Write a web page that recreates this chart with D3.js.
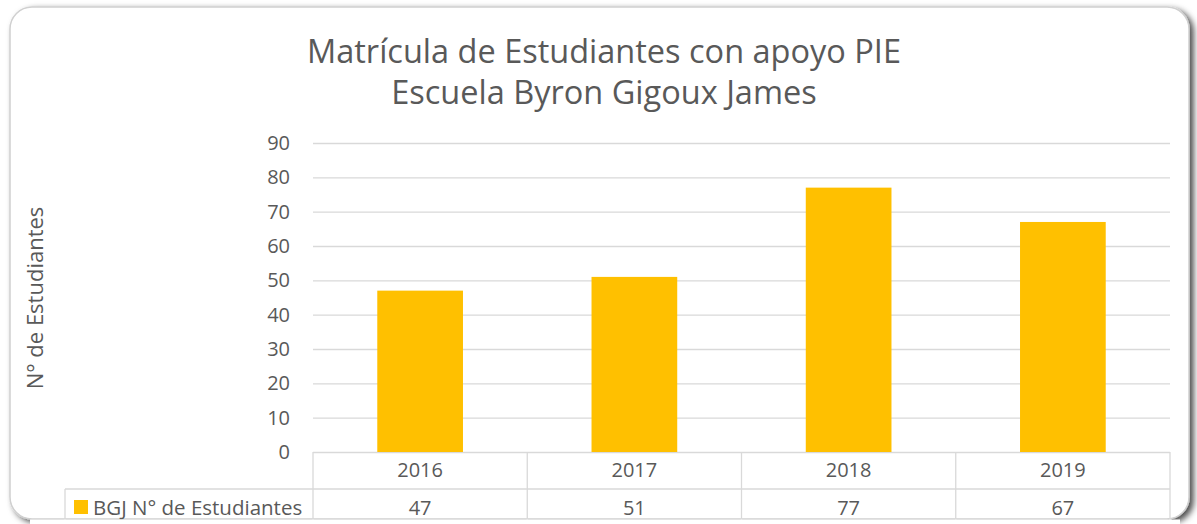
<!DOCTYPE html>
<html>
<head>
<meta charset="utf-8">
<script src="https://cdn.jsdelivr.net/npm/d3@7"></script>
<style>
  body { margin: 0; background: #fff; }
  text { font-family: "Open Sans", sans-serif; fill: #595959; }
</style>
</head>
<body>
<svg width="1197" height="524"></svg>
<script>
var years = ["2016", "2017", "2018", "2019"];
var students = [47, 51, 77, 67];
var yTicks = [0, 10, 20, 30, 40, 50, 60, 70, 80, 90];
var seriesName = "BGJ N° de Estudiantes";
var titleLines = ["Matrícula de Estudiantes con apoyo PIE", "Escuela Byron Gigoux James"];
var yTitle = "N° de Estudiantes";

var svg = d3.select("svg");

var margin = { left: 313, right: 27, top: 143, bottom: 72 };
var plotW = 1197 - margin.left - margin.right;

// frame with shadow
var defs = svg.append("defs");
var f = defs.append("filter").attr("id", "shadow")
    .attr("x", "-5%").attr("y", "-5%").attr("width", "110%").attr("height", "115%");
f.append("feDropShadow").attr("dx", 4).attr("dy", 3).attr("stdDeviation", 3)
    .attr("flood-color", "#000").attr("flood-opacity", 0.7);

svg.append("rect")
    .attr("x", 10).attr("y", 7)
    .attr("width", 1179).attr("height", 512)
    .attr("rx", 22)
    .attr("fill", "#fff")
    .attr("stroke", "#d0d0d0")
    .attr("stroke-width", 1.5)
    .attr("filter", "url(#shadow)");

var x = d3.scaleBand()
    .domain(years)
    .range([margin.left, margin.left + plotW])
    .padding(0);

var y = d3.scaleLinear()
    .domain([0, 90])
    .range([452, 143]);

// gridlines + tick labels
var yAxis = svg.append("g")
    .attr("transform", "translate(" + margin.left + ",0)")
    .call(d3.axisLeft(y)
        .tickValues(yTicks)
        .tickSize(-plotW)
        .tickPadding(23));
yAxis.select(".domain").remove();
yAxis.selectAll(".tick line").attr("stroke", "#d9d9d9").attr("stroke-width", 1.3);
yAxis.selectAll(".tick text")
    .style("font-size", "20px")
    .style("font-family", "'Open Sans', sans-serif")
    .attr("fill", "#595959");

// bars
var barW = x.bandwidth() * 0.4;
svg.append("g").selectAll("rect")
    .data(students)
    .enter().append("rect")
        .attr("x", function(d, i) { return x(years[i]) + (x.bandwidth() - barW) / 2; })
        .attr("y", function(d) { return y(d); })
        .attr("width", barW)
        .attr("height", function(d) { return y(0) - y(d); })
        .attr("fill", "#FFC000");

// data table
var rowTop = y(0), rowMid = 489, rowBot = 540;
var tbl = svg.append("g").attr("stroke", "#d9d9d9").attr("stroke-width", 1.3).attr("fill", "none");
tbl.append("line").attr("x1", 65).attr("x2", x.range()[1]).attr("y1", rowMid).attr("y2", rowMid);
tbl.append("line").attr("x1", 65).attr("x2", 65).attr("y1", rowMid).attr("y2", rowBot);
years.concat(["end"]).forEach(function(yr, i) {
  var xx = i < years.length ? x(yr) : x.range()[1];
  tbl.append("line").attr("x1", xx).attr("x2", xx).attr("y1", rowTop).attr("y2", rowBot);
});

svg.append("g").selectAll("text.yr")
    .data(years)
    .enter().append("text")
        .attr("x", function(d) { return x(d) + x.bandwidth() / 2; })
        .attr("y", 477)
        .attr("text-anchor", "middle")
        .style("font-size", "20px")
        .text(function(d) { return d; });

svg.append("g").selectAll("text.val")
    .data(students)
    .enter().append("text")
        .attr("x", function(d, i) { return x(years[i]) + x.bandwidth() / 2; })
        .attr("y", 515)
        .attr("text-anchor", "middle")
        .style("font-size", "20px")
        .text(function(d) { return d; });

// legend key in table
svg.append("rect").attr("x", 74).attr("y", 500).attr("width", 14).attr("height", 14).attr("fill", "#FFC000");
svg.append("text").attr("x", 93).attr("y", 515).style("font-size", "20.5px").text(seriesName);

// clip table at the frame bottom
svg.append("rect").attr("x", 30).attr("y", 519.5).attr("width", 1150).attr("height", 10).attr("fill", "#fff");

// title
svg.append("g").selectAll("text")
    .data(titleLines)
    .enter().append("text")
        .attr("x", 604)
        .attr("y", function(d, i) { return 63 + i * 41; })
        .attr("text-anchor", "middle")
        .style("font-size", "32.5px")
        .text(function(d) { return d; });

// y axis title
svg.append("text")
    .attr("transform", "translate(43,298) rotate(-90)")
    .attr("text-anchor", "middle")
    .style("font-size", "22px")
    .text(yTitle);
</script>
</body>
</html>
